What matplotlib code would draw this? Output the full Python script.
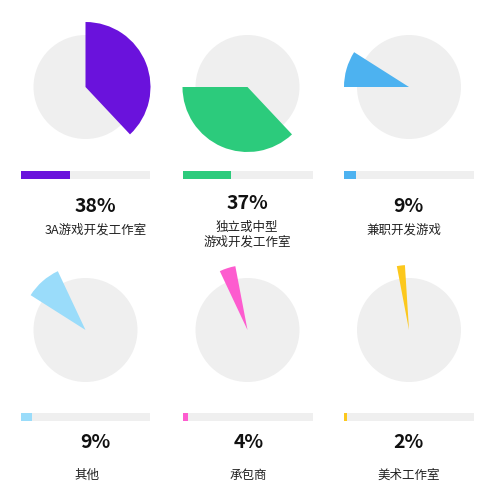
import matplotlib.pyplot as plt

plt.rcParams['font.family'] = ['Noto Sans CJK SC', 'DejaVu Sans']

categories = ['3A游戏开发工作室', '独立或中型\n游戏开发工作室', '兼职开发游戏', '其他', '承包商', '美术工作室']
values = [38, 37, 9, 9, 4, 2]
pct_labels = ['38%', '37%', '9%', '9%', '4%', '2%']
colors = ['#6a12dc', '#2ccb7c', '#4db2f0', '#9adcfa', '#fd5ccf', '#fcc81d']
gray = '#efefef'

W, H = 499, 490
fig = plt.figure(figsize=(W / 100, H / 100), dpi=100)

# layout in pixels
col_x = [85.5, 247.5, 409]
row_y = [87, 330]
r_px = 52
bar_y = [170.5, 413]
bar_h = 8
bar_w = 130
pct_pos = [(95, 206.5), (247.5, 203), (408, 207), (95, 443), (248.5, 443), (408.5, 443)]
lab_pos = [(95.5, 230), (247, 235), (403.5, 230), (86.5, 475), (248.5, 475), (409, 475)]


def fig_rect(x0, y0, w, h):
    return [x0 / W, 1 - (y0 + h) / H, w / W, h / H]


fracs = [v / 100 for v in values]
for i, cat in enumerate(categories):
    cx = col_x[i % 3]
    cy = row_y[i // 3]
    lim = 1.3
    size = 2 * lim * r_px
    ax = fig.add_axes(fig_rect(cx - size / 2, cy - size / 2, size, size))
    ax.pie([1], colors=[gray], radius=1.0, startangle=90)
    wedge_cols = ['none'] * len(values)
    wedge_cols[i] = colors[i]
    ax.pie(fracs, colors=wedge_cols, radius=1.25, startangle=90,
           counterclock=False, normalize=False)
    ax.set_xlim(-lim, lim)
    ax.set_ylim(-lim, lim)
    ax.set_aspect('equal')
    ax.axis('off')

    # progress bar
    bx = fig.add_axes(fig_rect(cx - bar_w / 2, bar_y[i // 3], bar_w, bar_h))
    bx.barh([0], [100], color=gray, height=1)
    bx.barh([0], [values[i]], color=colors[i], height=1)
    bx.set_xlim(0, 100)
    bx.set_ylim(-0.5, 0.5)
    bx.axis('off')

    px, py = pct_pos[i]
    fig.text(px / W, 1 - py / H, pct_labels[i], ha='center', va='center',
             fontsize=14, fontweight='bold', color='#111111')
    lx, ly = lab_pos[i]
    fig.text(lx / W, 1 - ly / H, cat, ha='center', va='center',
             fontsize=9, color='#222222', linespacing=1.15)

fig.savefig('out.png', dpi=100)
